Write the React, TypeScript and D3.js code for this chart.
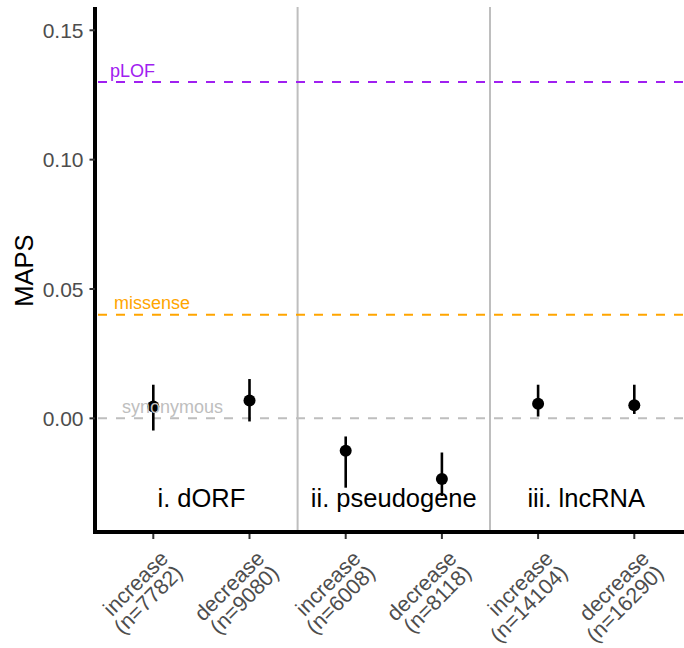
import React from "react";
import * as d3 from "d3";

const categories = ["increase", "decrease", "increase", "decrease", "increase", "decrease"];
const counts = ["(n=7782)", "(n=9080)", "(n=6008)", "(n=8118)", "(n=14104)", "(n=16290)"];
const groups = ["i. dORF", "ii. pseudogene", "iii. lncRNA"];
const mapsValues = [0.0046, 0.0069, -0.0125, -0.0234, 0.0056, 0.0051];
const lowerValues = [-0.0047, -0.0012, -0.0268, -0.030, 0.0007, 0.0017];
const upperValues = [0.013, 0.0152, -0.007, -0.0132, 0.013, 0.013];
const refNames = ["pLOF", "missense", "synonymous"];
const refValues = [0.13, 0.04, 0];
const refColors = ["#a020f0", "#ffa500", "#bebebe"];
const yTicks = [0, 0.05, 0.1, 0.15];

const W = 684;
const H = 648;
const FONT = "'Liberation Sans', Arial, sans-serif";

export default function App() {
  const idx = d3.range(categories.length);
  const x = d3.scalePoint<number>().domain(idx).range([153.3, 634.3]);
  const y = d3.scaleLinear().domain([-0.0447, 0.159]).range([534, 7]);
  const left = 95;
  const bottom = 532;

  const separators = [1.5, 3.5].map((v) => (x(1)! - x(0)!) * v + x(0)!);
  const refLabelX = [110, 114, 122];

  return (
    <svg width={W} height={H} style={{ position: "absolute", left: 0, top: 0, background: "#fff" }} fontFamily={FONT}>
      {separators.map((sx, i) => (
        <line key={"sep" + i} x1={sx} x2={sx} y1={7} y2={bottom} stroke="#bebebe" strokeWidth={2} />
      ))}
      {refValues.map((v, i) => (
        <line key={"ref" + i} x1={left} x2={W} y1={y(v)} y2={y(v)} stroke={refColors[i]} strokeWidth={2} strokeDasharray="9,9" strokeDashoffset={-3} />
      ))}
      {idx.map((i) => (
        <g key={"pt" + i}>
          <line x1={x(i)} x2={x(i)} y1={y(lowerValues[i])} y2={y(upperValues[i])} stroke="#000" strokeWidth={2.6} />
          <circle cx={x(i)} cy={y(mapsValues[i])} r={6} fill="#000" />
        </g>
      ))}
      {refNames.map((n, i) => (
        <text key={"rl" + i} x={refLabelX[i]} y={y(refValues[i]) - 5.5} fill={refColors[i]} fontSize={18}>
          {n}
        </text>
      ))}
      {groups.map((g, i) => (
        <text key={"g" + i} x={(x(i * 2)! + x(i * 2 + 1)!) / 2} y={507} textAnchor="middle" fontSize={25.5} fill="#000">
          {g}
        </text>
      ))}
      {/* axes */}
      <line x1={left} x2={left} y1={7} y2={bottom + 2} stroke="#000" strokeWidth={4} />
      <line x1={left - 2} x2={W} y1={bottom} y2={bottom} stroke="#000" strokeWidth={4} />
      {yTicks.map((t) => (
        <g key={"yt" + t}>
          <line x1={89.5} x2={left} y1={y(t)} y2={y(t)} stroke="#333" strokeWidth={2} />
          <text x={83.5} y={y(t)} dy="0.36em" textAnchor="end" fontSize={21} fill="#4d4d4d">
            {d3.format(".2f")(t)}
          </text>
        </g>
      ))}
      {idx.map((i) => (
        <g key={"xt" + i}>
          <line x1={x(i)} x2={x(i)} y1={bottom + 2} y2={539} stroke="#333" strokeWidth={2} />
          <text transform={`translate(${x(i)! + 2.5},${546}) rotate(-45)`} textAnchor="end" fontSize={21.5} fill="#4d4d4d">
            <tspan x={0} dy="0.9em">{categories[i]}</tspan>
            <tspan x={0} dy="0.95em">{counts[i]}</tspan>
          </text>
        </g>
      ))}
      <text transform={`translate(24,${(7 + 534) / 2}) rotate(-90)`} textAnchor="middle" dy="0.35em" fontSize={25.5} fill="#000">
        MAPS
      </text>
    </svg>
  );
}
